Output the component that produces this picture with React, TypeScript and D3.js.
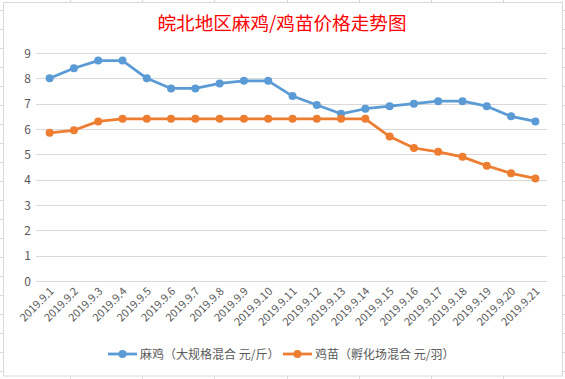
import React from "react";
import * as d3 from "d3";

const categories = [
  "2019.9.1", "2019.9.2", "2019.9.3", "2019.9.4", "2019.9.5", "2019.9.6", "2019.9.7",
  "2019.9.8", "2019.9.9", "2019.9.10", "2019.9.11", "2019.9.12", "2019.9.13", "2019.9.14",
  "2019.9.15", "2019.9.16", "2019.9.17", "2019.9.18", "2019.9.19", "2019.9.20", "2019.9.21",
];
const maji = [8.0, 8.4, 8.7, 8.7, 8.0, 7.6, 7.6, 7.8, 7.9, 7.9, 7.3, 6.95, 6.6, 6.8, 6.9, 7.0, 7.1, 7.1, 6.9, 6.5, 6.3];
const jimiao = [5.85, 5.95, 6.3, 6.4, 6.4, 6.4, 6.4, 6.4, 6.4, 6.4, 6.4, 6.4, 6.4, 6.4, 5.7, 5.25, 5.1, 4.9, 4.55, 4.25, 4.05];
const yTicks = [0, 1, 2, 3, 4, 5, 6, 7, 8, 9];
const seriesNames = ["麻鸡（大规格混合 元/斤）", "鸡苗（孵化场混合 元/羽）"];
const title = "皖北地区麻鸡/鸡苗价格走势图";

const W = 565, H = 379;
const FONT = "'Noto Sans CJK SC', 'Noto Sans', sans-serif";
const BLUE = "#5B9BD5", ORANGE = "#ED7D31", GRID = "#D9D9D9", TXT = "#595959";

export default function App() {
  const x = d3.scalePoint<string>().domain(categories).range([37.5, 547.5]).padding(0.5);
  const y = d3.scaleLinear().domain([0, 9]).range([281, 53]);
  const line = d3.line<number>().x((_, i) => x(categories[i])!).y((d) => y(d));
  const series = [
    { name: seriesNames[0], data: maji, color: BLUE },
    { name: seriesNames[1], data: jimiao, color: ORANGE },
  ];
  const rows = d3.range(10, H, 19);
  const cols = d3.range(0, 8).map((i) => 70 + i * 72.2);
  const legendX = [108, 283];
  return (
    <svg width={W} height={H} style={{ position: "absolute", left: 0, top: 0, background: "#fff" }}>
      {rows.map((r) => (
        <line key={"r" + r} x1={0} x2={W} y1={r + 0.5} y2={r + 0.5} stroke={GRID} />
      ))}
      {cols.map((c) => (
        <line key={"c" + c} x1={Math.round(c) + 0.5} x2={Math.round(c) + 0.5} y1={0} y2={H} stroke={GRID} />
      ))}
      <rect x={3.5} y={2.5} width={559} height={373.5} fill="#fff" stroke={GRID} />
      <text x={282} y={29.5} textAnchor="middle" fill="#FF0000" fontSize={18.6} fontFamily={FONT}>
        {title}
      </text>
      {yTicks.map((t) => (
        <g key={t}>
          <line x1={36} x2={547} y1={Math.round(y(t)) + 0.5} y2={Math.round(y(t)) + 0.5} stroke={GRID} />
          <text x={31} y={y(t) + 4.5} textAnchor="end" fill={TXT} fontSize={12} fontFamily={FONT}>
            {t}
          </text>
        </g>
      ))}
      {categories.map((c) => (
        <text
          key={c}
          transform={`translate(${x(c)! + 5},${292}) rotate(-45)`}
          textAnchor="end"
          fill={TXT}
          fontSize={11}
          fontFamily={FONT}
        >
          {c}
        </text>
      ))}
      {series.map((s) => (
        <g key={s.name}>
          <path d={line(s.data)!} fill="none" stroke={s.color} strokeWidth={2.75} strokeLinejoin="round" />
          {s.data.map((v, i) => (
            <circle key={i} cx={x(categories[i])} cy={y(v)} r={4} fill={s.color} />
          ))}
        </g>
      ))}
      {series.map((s, i) => (
        <g key={"l" + i}>
          <line x1={legendX[i]} x2={legendX[i] + 29} y1={354} y2={354} stroke={s.color} strokeWidth={2.75} />
          <circle cx={legendX[i] + 14.5} cy={354} r={4} fill={s.color} />
          <text x={legendX[i] + 32} y={358.5} fill={TXT} fontSize={12} fontFamily={FONT}>
            {s.name}
          </text>
        </g>
      ))}
    </svg>
  );
}
